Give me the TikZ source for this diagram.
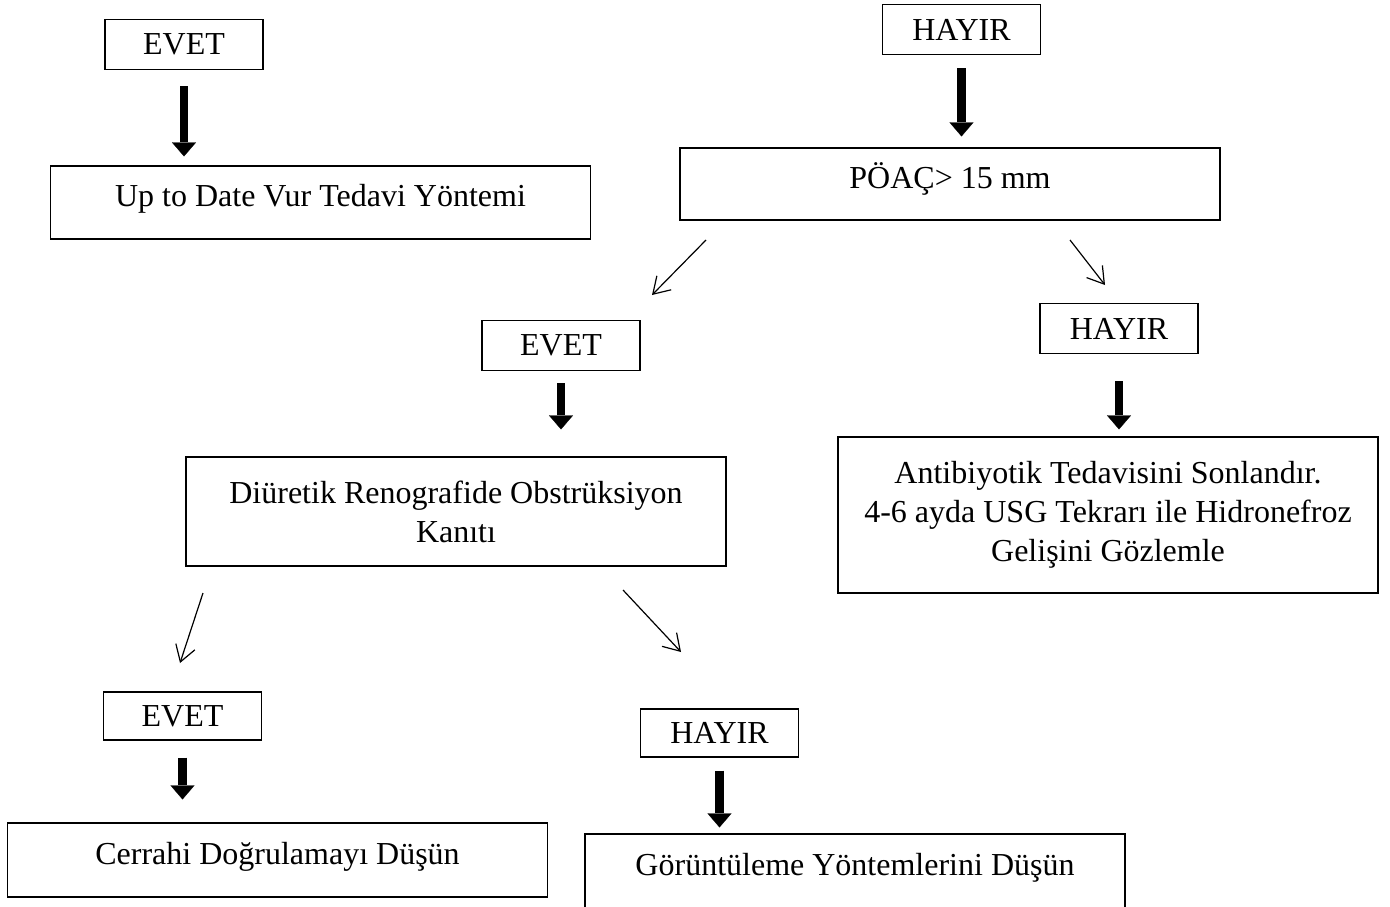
\documentclass[tikz,border=0pt]{standalone}
\usepackage{fontspec}
\setmainfont{Liberation Serif}
\usetikzlibrary{arrows.meta,positioning}

\begin{document}
\begin{tikzpicture}[
    x=0.5pt, y=-0.5pt,
    box/.style={draw, line width=0.6pt, align=center, inner sep=0pt, font=\fontsize{16}{19.5}\selectfont},
    answer/.style={box, minimum width=79pt, minimum height=25pt},
    wide/.style={box, minimum width=270pt},
    lift/.style={text height=13pt, text depth=9pt},
    fat/.style={-{Triangle[width=12pt,length=7pt,line width=0.1pt]}, line width=4.3pt},
    branch/.style={-{Straight Barb[length=8pt,width=10pt]}, line width=0.6pt}
  ]
    \useasboundingbox (0,0) rectangle (1390,906);
    % top row
    \node[answer] (evetTop) at (184,44.5) {EVET};
    \node[answer] (hayirTop) at (961.5,29.5) {HAYIR};
    \node[wide, lift, minimum height=36.5pt] (uptodate) at (320.5,202.5) {Up to Date Vur Tedavi Yöntemi};
    \node[wide, lift, minimum height=36pt] (poac) at (950,184) {PÖAÇ> 15 mm};
    % middle row
    \node[answer] (evetMid) at (561,345.5) {EVET};
    \node[answer] (hayirMid) at (1119,328.5) {HAYIR};
    \node[wide, minimum height=54.5pt] (diuretik) at (456,511.5) {Diüretik Renografide Obstrüksiyon\\Kanıtı};
    \node[wide, minimum height=78pt] (antibiyotik) at (1108,515) {Antibiyotik Tedavisini Sonlandır.\\4-6 ayda USG Tekrarı ile Hidronefroz\\Gelişini Gözlemle};
    % bottom row
    \node[answer, minimum height=24pt] (evetLow) at (182.5,716) {EVET};
    \node[answer, minimum height=24pt] (hayirLow) at (719.5,733) {HAYIR};
    \node[wide, lift, minimum height=37pt] (cerrahi) at (277.5,860) {Cerrahi Doğrulamayı Düşün};
    \node[wide, lift, minimum height=37pt] (goruntu) at (855,871) {Görüntüleme Yöntemlerini Düşün};

    % loose ends of the thin arrows
    \coordinate (poacL) at (706,240);
    \coordinate (evetMidIn) at (652,295);
    \coordinate (poacR) at (1070,240);
    \coordinate (hayirMidIn) at (1105,285);
    \coordinate (diuretikL) at (203,593);
    \coordinate (evetLowIn) at (180,663);
    \coordinate (diuretikR) at (623,590);
    \coordinate (hayirLowIn) at (681,652);

    \draw[fat, shorten <=8pt, shorten >=4.5pt] (evetTop.south) -- (evetTop.south |- uptodate.north);
    \draw[fat, shorten <=6.5pt, shorten >=5.5pt] (hayirTop.south) -- (hayirTop.south |- poac.north);
    \draw[fat, shorten <=6pt, shorten >=13.5pt] (evetMid.south) -- (evetMid.south |- diuretik.north);
    \draw[fat, shorten <=13.5pt, shorten >=3.5pt] (hayirMid.south) -- (hayirMid.south |- antibiyotik.north);
    \draw[fat, shorten <=8.5pt, shorten >=11.5pt] (evetLow.south) -- (evetLow.south |- cerrahi.north);
    \draw[fat, shorten <=6.5pt, shorten >=3pt] (hayirLow.south) -- (hayirLow.south |- goruntu.north);

    \draw[branch] (poacL) -- (evetMidIn);
    \draw[branch] (poacR) -- (hayirMidIn);
    \draw[branch] (diuretikL) -- (evetLowIn);
    \draw[branch] (diuretikR) -- (hayirLowIn);
  \end{tikzpicture}
\end{document}
